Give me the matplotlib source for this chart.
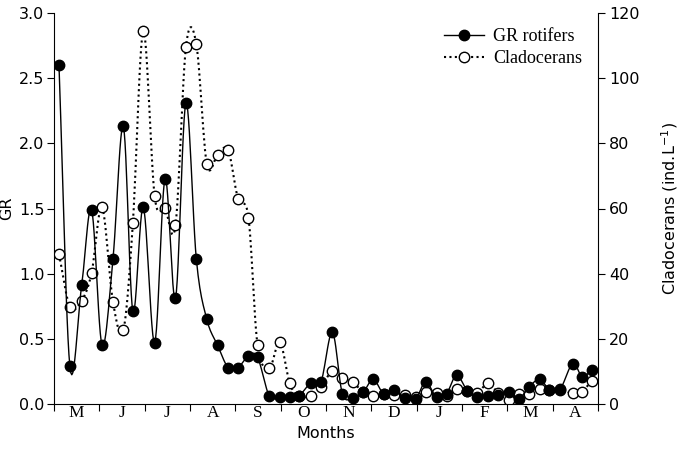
import numpy as np
import matplotlib
matplotlib.use("Agg")
import matplotlib.pyplot as plt
from matplotlib.lines import Line2D

# Sampling dates in month units (0 = start of May)
sample_month = [0.11, 0.35, 0.61, 0.83, 1.06, 1.30, 1.53, 1.74, 1.97, 2.22,
                2.45, 2.68, 2.91, 3.14, 3.37, 3.61, 3.84, 4.06, 4.29, 4.49,
                4.75, 4.98, 5.20, 5.40, 5.66, 5.89, 6.14, 6.36, 6.59, 6.82,
                7.04, 7.27, 7.50, 7.74, 7.98, 8.20, 8.44, 8.66, 8.88, 9.12,
                9.34, 9.58, 9.80, 10.03, 10.25, 10.48, 10.71, 10.93, 11.16, 11.44,
                11.65, 11.86]

# Growth rate of rotifers (left axis)
gr_rotifers = [2.60, 0.29, 0.91, 1.49, 0.45, 1.11, 2.13, 0.71, 1.51, 0.47,
               1.73, 0.81, 2.31, 1.11, 0.65, 0.45, 0.28, 0.28, 0.37, 0.36,
               0.06, 0.056, 0.056, 0.06, 0.16, 0.17, 0.55, 0.08, 0.048, 0.09,
               0.19, 0.08, 0.11, 0.044, 0.04, 0.17, 0.05, 0.08, 0.22, 0.10,
               0.05, 0.06, 0.07, 0.09, 0.04, 0.13, 0.19, 0.11, 0.11, 0.31,
               0.21, 0.26]

# Cladocerans density, ind./L (right axis)
cladocerans = [46.0, 29.9, 31.7, 40.3, 60.4, 31.4, 22.7, 55.6, 114.5, 63.8,
               60.1, 54.8, 109.5, 110.4, 73.7, 76.5, 78.0, 62.9, 57.2, 18.1,
               11.0, 19.1, 6.3, 2.5, 2.4, 5.3, 10.1, 8.1, 6.8, 3.6,
               2.6, 3.2, 2.8, 2.8, 2.1, 3.6, 3.3, 2.5, 4.5, 4.1,
               3.5, 6.4, 3.3, 1.2, 3.0, 3.0, 4.5, 4.3, 4.5, 3.3,
               3.8, 7.2]

month_labels = ["M", "J", "J", "A", "S", "O", "N", "D", "J", "F", "M", "A"]


def smooth(x, y, n=12):
    # Catmull-Rom style curve through the points, only for drawing the line
    x = np.asarray(x, float)
    y = np.asarray(y, float)
    mx, my = np.gradient(x), np.gradient(y)
    t = np.linspace(0, 1, n, endpoint=False)[:, None]
    h00 = 2 * t**3 - 3 * t**2 + 1
    h10 = t**3 - 2 * t**2 + t
    h01 = -2 * t**3 + 3 * t**2
    h11 = t**3 - t**2
    xs = h00 * x[:-1] + h10 * mx[:-1] + h01 * x[1:] + h11 * mx[1:]
    ys = h00 * y[:-1] + h10 * my[:-1] + h01 * y[1:] + h11 * my[1:]
    return np.r_[xs.T.ravel(), x[-1]], np.r_[ys.T.ravel(), y[-1]]


sans = "DejaVu Sans"
serif = "Liberation Serif"

fig = plt.figure(figsize=(6.85, 4.5), dpi=100)
ax = fig.add_axes([54 / 685, 46 / 450, 544 / 685, 391 / 450])
ax2 = ax.twinx()

# Cladocerans: dotted line, open circles
cx, cy = smooth(sample_month, cladocerans)
ax2.plot(cx, cy, color="black", lw=1.5, ls=(0, (1, 1.6)))
ax2.plot(sample_month, cladocerans, ls="none", marker="o", ms=7.5,
         mfc="white", mec="black", mew=1.0)

# GR rotifers: solid line, filled circles
rx, ry = smooth(sample_month, gr_rotifers)
ax.plot(rx, ry, color="black", lw=1.0)
ax.plot(sample_month, gr_rotifers, ls="none", marker="o", ms=7.5,
        mfc="black", mec="black")

ax.set_zorder(ax2.get_zorder() + 1)
ax.patch.set_visible(False)

ax.set_xlim(0, 12)
ax.set_ylim(0, 3)
ax2.set_ylim(0, 120)

ax.spines["top"].set_visible(False)
ax.spines["right"].set_visible(False)
ax2.spines["top"].set_visible(False)
ax2.spines["left"].set_visible(False)
ax2.spines["bottom"].set_visible(False)

ax.set_xticks(np.arange(0, 13))
ax.set_xticklabels([])
ax.set_xticks(np.arange(0.5, 12), minor=True)
ax.set_xticklabels(month_labels, minor=True, family=serif, fontsize=12.5)
ax.tick_params(axis="x", which="major", direction="out", length=5)
ax.tick_params(axis="x", which="minor", length=0, pad=1)

ax.set_yticks(np.arange(0, 3.01, 0.5))
ax.set_yticklabels([f"{v:.1f}" for v in np.arange(0, 3.01, 0.5)],
                   family=sans, fontsize=11.5)
ax.tick_params(axis="y", direction="out", length=5, pad=2)

ax2.set_yticks(np.arange(0, 121, 20))
ax2.set_yticklabels([str(v) for v in range(0, 121, 20)], family=sans, fontsize=11.5)
ax2.tick_params(axis="y", direction="out", length=5, pad=3)

ax.set_xlabel("Months", family=sans, fontsize=11.5, labelpad=3)
ax.set_ylabel("GR", family=sans, fontsize=11.5, labelpad=3)
ax2.set_ylabel("Cladocerans (ind.L$^{-1}$)", family=sans, fontsize=11.5, labelpad=14)

handles = [
    Line2D([], [], color="black", lw=1.0, marker="o", ms=7.5, mfc="black"),
    Line2D([], [], color="black", lw=1.5, ls=(0, (1, 1.6)), marker="o", ms=7.5,
           mfc="white", mec="black"),
]
ax.legend(handles, ["GR rotifers", "Cladocerans"], loc="upper left",
          bbox_to_anchor=(0.717, 0.962), frameon=False, handlelength=2.2,
          handletextpad=0.5, borderpad=0, borderaxespad=0, labelspacing=0.3,
          prop={"family": serif, "size": 13})

fig.savefig("out.png", dpi=100)
